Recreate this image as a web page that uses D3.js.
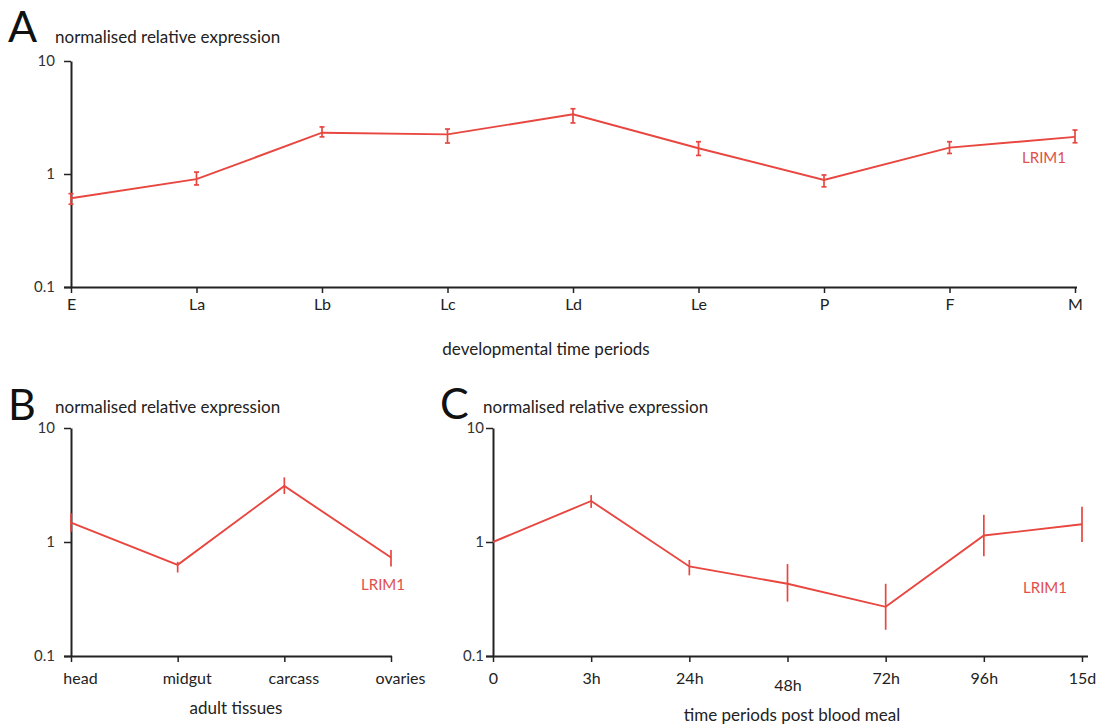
<!DOCTYPE html>
<html>
<head>
<meta charset="utf-8">
<script src="https://cdn.jsdelivr.net/npm/d3@7"></script>
<style>
  html, body { margin: 0; padding: 0; background: #fff; }
  svg { display: block; font-family: Lato, "Open Sans", sans-serif; }
</style>
</head>
<body>
<svg id="chart" width="1102" height="724"></svg>
<script>
// LRIM1 relative expression (log scale), mean with upper / lower error bounds

// A: developmental time periods
const devStages = ["E", "La", "Lb", "Lc", "Ld", "Le", "P", "F", "M"];
const devMean   = [0.61, 0.90, 2.32, 2.24, 3.38, 1.69, 0.885, 1.71, 2.13];
const devHigh   = [0.67, 1.04, 2.61, 2.50, 3.78, 1.93, 0.98, 1.93, 2.45];
const devLow    = [0.54, 0.80, 2.13, 1.88, 2.83, 1.46, 0.77, 1.52, 1.89];

// B: adult tissues
const tissues     = ["head", "midgut", "carcass", "ovaries"];
const tissueMean  = [1.48, 0.63, 3.10, 0.73];
const tissueHigh  = [1.79, 0.67, 3.69, 0.85];
const tissueLow   = [1.23, 0.54, 2.64, 0.61];

// C: time periods post blood meal
const bloodTimes = ["0", "3h", "24h", "48h", "72h", "96h", "15d"];
const bloodMean  = [1.00, 2.29, 0.61, 0.43, 0.27, 1.14, 1.43];
const bloodHigh  = [1.00, 2.58, 0.695, 0.64, 0.43, 1.73, 2.04];
const bloodLow   = [1.00, 1.99, 0.51, 0.30, 0.17, 0.75, 1.00];

const yTickValues = [0.1, 1, 10];
const geneName = "LRIM1";
const yTitle = "normalised relative expression";

const RED = "#e8463f";
const INK = "#222";
const svg = d3.select("#chart");

function drawPanel(o) {
  const g = svg.append("g");
  const x = d3.scalePoint().domain(o.categories).range([o.left, o.right]);
  const y = d3.scaleLog().domain([0.1, 10]).range([o.bottom, o.top]);

  // y axis
  const yAxis = g.append("g")
    .attr("transform", `translate(${o.left},0)`)
    .call(d3.axisLeft(y).tickValues(yTickValues).tickFormat(d => String(d))
      .tickSize(7).tickSizeOuter(0).tickPadding(o.yLabelGap));
  yAxis.select(".domain").attr("stroke", INK).attr("stroke-width", 2);
  yAxis.selectAll(".tick line").attr("stroke", INK).attr("stroke-width", 1.5);
  yAxis.selectAll(".tick text").attr("fill", "#333").style("font-size", "15px")
    .style("font-family", "Lato, sans-serif");

  // x axis
  const xAxis = g.append("g")
    .attr("transform", `translate(0,${o.bottom})`)
    .call(d3.axisBottom(x).tickSize(6).tickSizeOuter(0).tickPadding(o.labelGap));
  xAxis.select(".domain").attr("stroke", INK).attr("stroke-width", 2)
    .attr("d", `M${o.left - 7},0.5H${o.axisEnd}`);
  xAxis.selectAll(".tick line").attr("stroke", INK).attr("stroke-width", 1.5);
  xAxis.selectAll(".tick text").attr("fill", "#222").style("font-size", "16px")
    .style("font-family", "Lato, sans-serif")
    .attr("dx", o.labelShift || 0)
    .attr("dy", d => (o.lowLabels && o.lowLabels.includes(d)) ? "1.15em" : "0.71em");

  // series line
  const idx = d3.range(o.categories.length);
  g.append("path")
    .datum(idx)
    .attr("fill", "none").attr("stroke", RED).attr("stroke-width", 1.9)
    .attr("stroke-linejoin", "miter")
    .attr("d", d3.line().x(i => x(o.categories[i])).y(i => y(o.mean[i])));

  // error bars
  const eb = g.append("g").attr("stroke", RED).attr("stroke-width", 1.7);
  idx.forEach(i => {
    const cx = x(o.categories[i]);
    if (o.high[i] === o.low[i]) return;
    eb.append("line").attr("x1", cx).attr("x2", cx)
      .attr("y1", y(o.high[i])).attr("y2", y(o.low[i]));
    if (o.caps) {
      [o.high[i], o.low[i]].forEach(v => {
        eb.append("line").attr("x1", cx - 2.5).attr("x2", cx + 2.5)
          .attr("y1", y(v)).attr("y2", y(v));
      });
    }
  });

  // gene label
  g.append("text").attr("x", o.geneX).attr("y", o.geneY)
    .attr("text-anchor", "end").attr("fill", "#e0504a")
    .style("font-size", "15px").text(geneName);

  // panel letter and titles
  g.append("text").attr("x", o.letterX).attr("y", o.letterY)
    .attr("fill", "#111").style("font-size", "43px").style("font-weight", 400)
    .text(o.letter);
  g.append("text").attr("x", o.titleX).attr("y", o.titleY)
    .attr("fill", "#222").style("font-size", "17px").text(yTitle);
  g.append("text").attr("x", o.xTitleX).attr("y", o.xTitleY)
    .attr("text-anchor", "middle").attr("fill", "#222").style("font-size", "17px")
    .text(o.xTitle);
}

drawPanel({
  letter: "A", letterX: 8, letterY: 42, titleX: 55, titleY: 43,
  categories: devStages, mean: devMean, high: devHigh, low: devLow, caps: true,
  left: 71, right: 1075, axisEnd: 1077, top: 61, bottom: 287, labelGap: 6, yLabelGap: 9,
  geneX: 1066, geneY: 163,
  xTitle: "developmental time periods", xTitleX: 546, xTitleY: 355
});

drawPanel({
  letter: "B", letterX: 8, letterY: 420, titleX: 55, titleY: 413,
  categories: tissues, mean: tissueMean, high: tissueHigh, low: tissueLow, caps: false,
  left: 71, right: 391, axisEnd: 392, top: 428, bottom: 656, labelShift: 9, labelGap: 11, yLabelGap: 9,
  geneX: 405, geneY: 590,
  xTitle: "adult tissues", xTitleX: 236, xTitleY: 714
});

drawPanel({
  letter: "C", letterX: 440, letterY: 419, titleX: 483, titleY: 413,
  categories: bloodTimes, mean: bloodMean, high: bloodHigh, low: bloodLow, caps: false,
  left: 493, right: 1082, axisEnd: 1088, top: 428, bottom: 656, labelGap: 11, yLabelGap: 2,
  lowLabels: ["48h"],
  geneX: 1067, geneY: 593,
  xTitle: "time periods post blood meal", xTitleX: 792, xTitleY: 721
});
</script>
</body>
</html>
